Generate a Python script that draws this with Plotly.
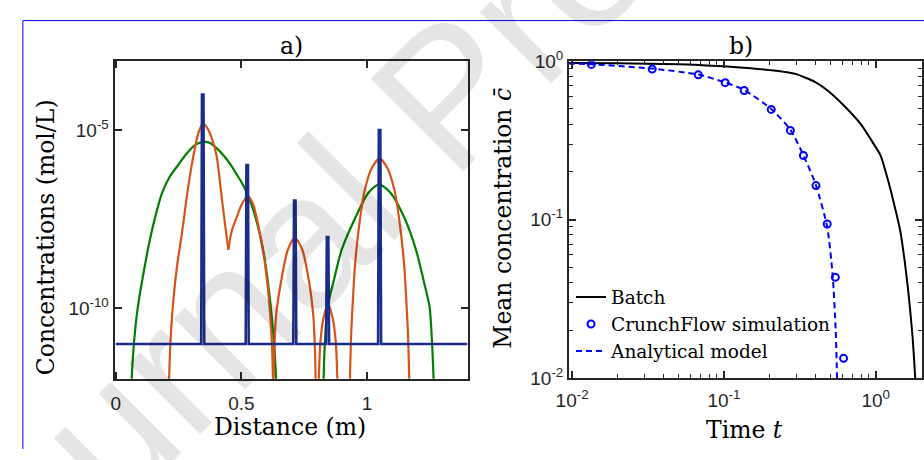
import plotly.graph_objects as go

W, H = 924, 460

# ---------------- Panel a) data (log10 of concentration, mol/L) ----------------
blue_x = [0.0, 0.340, 0.343, 0.349, 0.352, 0.517, 0.520, 0.526, 0.529,
          0.7065, 0.7095, 0.7155, 0.7185, 0.837, 0.840, 0.846, 0.849,
          1.044, 1.047, 1.053, 1.056, 1.4]
blue_y = [1e-11, 1e-11, 1e-4, 1e-4, 1e-11, 1e-11, 1.05e-6, 1.05e-6, 1e-11,
          1e-11, 1.05e-7, 1.05e-7, 1e-11, 1e-11, 1.0e-8, 1.0e-8, 1e-11,
          1e-11, 1e-5, 1e-5, 1e-11, 1e-11]

orange_x = [0.209, 0.212, 0.218, 0.23, 0.245, 0.263, 0.28, 0.297, 0.315, 0.33, 0.347,
            0.365, 0.383, 0.401, 0.412, 0.424, 0.436, 0.448, None,
            0.448, 0.456, 0.465, 0.481, 0.50, 0.525, 0.545, 0.565, 0.586, 0.60, 0.612,
            0.62, 0.625, 0.627, None,
            0.626, 0.628, 0.632, 0.638, 0.658, 0.685, 0.713, 0.742, 0.769, 0.786,
            0.792, 0.795, 0.797, None,
            0.806, 0.808, 0.815, 0.826, 0.845, 0.864, 0.875, 0.882, 0.884, None,
            0.93, 0.932, 0.937, 0.945, 0.952, 0.97, 0.991, 1.02, 1.05, 1.08, 1.109,
            1.13, 1.148, 1.155, 1.163, 1.168, 1.17]
orange_log = [-13, -12, -10.9, -9.7, -8.75, -7.91, -7.0, -6.2, -5.5, -5.05, -4.82,
              -4.95, -5.25, -5.71, -6.3, -7.03, -7.7, -8.36, None,
              -8.36, -8.0, -7.75, -7.45, -7.1, -6.86, -7.05, -7.6, -8.36, -9.1, -9.95,
              -10.8, -11.8, -13, None,
              -13, -12, -11.0, -10.2, -9.24, -8.35, -8.02, -8.35, -9.24, -10.2,
              -11.0, -11.9, -13, None,
              -13, -12, -10.9, -10.3, -9.88, -10.3, -10.9, -12, -13, None,
              -13, -12, -10.7, -9.6, -8.8, -7.6, -6.68, -6.05, -5.80, -6.05, -6.68,
              -7.6, -8.8, -9.6, -10.7, -12, -13]

green_x = [0.058, 0.063, 0.072, 0.086, 0.108, 0.135, 0.16, 0.185, 0.215, 0.246, 0.275,
           0.298, 0.32, 0.35, 0.375, 0.40, 0.429, 0.455, 0.481, 0.505, 0.527, 0.55,
           0.573, 0.59, 0.605, 0.616, 0.625, 0.632, 0.638, 0.641, None,
           0.824, 0.827, 0.832, 0.843, 0.867, 0.899, 0.952, 1.004, 1.048, 1.095,
           1.15, 1.195, 1.226, 1.249, 1.259, 1.265, 1.268]
green_log = [-13, -12.0, -11.0, -10.05, -9.1, -8.1, -7.35, -6.75, -6.3, -6.0, -5.72,
             -5.53, -5.4, -5.33, -5.36, -5.5, -5.71, -5.95, -6.24, -6.52, -6.86, -7.3,
             -7.92, -8.5, -9.24, -9.9, -10.57, -11.2, -12.0, -13, None,
             -13, -12, -11.0, -9.96, -9.24, -8.36, -7.48, -6.77, -6.52, -6.77,
             -7.48, -8.36, -9.24, -9.96, -11.0, -12, -13]

a_xticks = [0, 0.5, 1]
a_xticktext = ["0", "0.5", "1"]
a_yticks = [1e-10, 1e-5]
a_yticktext = ["10<sup>-10</sup>", "10<sup>-5</sup>"]

# ---------------- Panel b) data ----------------
batch_t = [0.0095, 0.02, 0.05, 0.1, 0.15, 0.2, 0.295, 0.4, 0.486, 0.6, 0.8, 0.95,
           1.077, 1.2, 1.315, 1.45, 1.55, 1.65, 1.75, 1.82, 1.86]
batch_c = [0.975, 0.972, 0.96, 0.93, 0.905, 0.88, 0.833, 0.74, 0.65, 0.54, 0.40, 0.31,
           0.254, 0.18, 0.128, 0.085, 0.055, 0.033, 0.018, 0.01, 0.006]

sim_t = [0.0134, 0.0337, 0.0678, 0.102, 0.136, 0.205, 0.274, 0.334, 0.404, 0.479,
         0.542, 0.614]
sim_c = [0.956, 0.893, 0.822, 0.733, 0.654, 0.497, 0.366, 0.254, 0.164, 0.0938,
         0.0432, 0.0133]

ana_t = [0.0095, 0.0134, 0.0337, 0.0678, 0.102, 0.136, 0.205, 0.274, 0.334, 0.404,
         0.479, 0.52, 0.545, 0.556, 0.562]
ana_c = [0.97, 0.958, 0.9, 0.825, 0.735, 0.66, 0.5, 0.37, 0.255, 0.165, 0.09,
         0.045, 0.02, 0.01, 0.005]

b_ticks = [0.01, 0.1, 1]
b_ticktext = ["10<sup>-2</sup>", "10<sup>-1</sup>", "10<sup>0</sup>"]
b_minor = [0.02, 0.03, 0.04, 0.05, 0.06, 0.07, 0.08, 0.09,
           0.2, 0.3, 0.4, 0.5, 0.6, 0.7, 0.8, 0.9, 2]
b_yminor = [0.02, 0.03, 0.04, 0.05, 0.06, 0.07, 0.08, 0.09,
            0.2, 0.3, 0.4, 0.5, 0.6, 0.7, 0.8, 0.9]

AX = "#262626"
TICKFONT = dict(family="Liberation Sans, Arial, sans-serif", size=19, color=AX)
SERIF = "DejaVu Serif, serif"

fig = go.Figure()

fig.add_trace(go.Scatter(x=green_x, y=[None if v is None else 10 ** v for v in green_log],
                         mode="lines", line=dict(color="#007f00", width=2.2,
                                                 shape="spline", smoothing=0.7),
                         xaxis="x", yaxis="y", showlegend=False))
fig.add_trace(go.Scatter(x=orange_x, y=[None if v is None else 10 ** v for v in orange_log],
                         mode="lines", line=dict(color="#d95319", width=2.2,
                                                 shape="spline", smoothing=0.7),
                         xaxis="x", yaxis="y", showlegend=False))
fig.add_trace(go.Scatter(x=blue_x, y=blue_y, mode="lines",
                         line=dict(color="#1b2d8c", width=2.6),
                         xaxis="x", yaxis="y", showlegend=False))

fig.add_trace(go.Scatter(x=batch_t, y=batch_c, mode="lines", name="Batch",
                         line=dict(color="black", width=2, shape="spline", smoothing=0.6),
                         xaxis="x2", yaxis="y2"))
fig.add_trace(go.Scatter(x=sim_t, y=sim_c, mode="markers", name="CrunchFlow simulation",
                         marker=dict(symbol="circle-open", size=7, color="#0000ff",
                                     line=dict(width=2, color="#0000ff")),
                         xaxis="x2", yaxis="y2"))
fig.add_trace(go.Scatter(x=ana_t, y=ana_c, mode="lines", name="Analytical model",
                         line=dict(color="#0000ff", width=2, dash="6px,4px",
                                   shape="spline", smoothing=0.6),
                         xaxis="x2", yaxis="y2"))

common = dict(showline=True, linecolor=AX, linewidth=2, mirror="ticks", ticks="inside",
              tickcolor=AX, tickwidth=1.5, showgrid=False, zeroline=False,
              tickfont=TICKFONT)

fig.update_layout(
    width=W, height=H, autosize=False,
    margin=dict(l=0, r=0, t=0, b=0),
    paper_bgcolor="white", plot_bgcolor="white",
    xaxis=dict(domain=[103 / W, 461 / W], range=[-0.005, 1.4], tickmode="array",
               tickvals=a_xticks, ticktext=a_xticktext, ticklen=7, anchor="y",
               ticklabelstandoff=6, **common),
    yaxis=dict(domain=[1 - 386 / H, 1 - 51 / H], type="log", range=[-11.98, -3.07],
               tickmode="array", tickvals=a_yticks, ticktext=a_yticktext, ticklen=7,
               anchor="x", **common),
    xaxis2=dict(domain=[564 / W, 922 / W], type="log", range=[-2.02, 0.305],
                tickmode="array", tickvals=b_ticks, ticktext=b_ticktext, ticklen=7,
                anchor="y2", ticklabelstandoff=4,
                minor=dict(tickmode="array", tickvals=b_minor, ticks="inside", ticklen=4,
                           tickcolor=AX, tickwidth=1.2, showgrid=False),
                **common),
    yaxis2=dict(domain=[1 - 385 / H, 1 - 51 / H], type="log", range=[-2, 0],
                tickmode="array", tickvals=b_ticks, ticktext=b_ticktext, ticklen=7,
                anchor="x2",
                minor=dict(tickmode="array", tickvals=b_yminor, ticks="inside", ticklen=4,
                           tickcolor=AX, tickwidth=1.2, showgrid=False),
                **common),
    legend=dict(x=566 / W, y=1 - 280 / H, xanchor="left", yanchor="top",
                bgcolor="rgba(0,0,0,0)", borderwidth=0, tracegroupgap=0,
                font=dict(family=SERIF, size=18.5, color="black")),
)

def ann(text, px, py, size=23.5, angle=0, color="black", family=SERIF):
    fig.add_annotation(text=text, x=px / W, y=1 - py / H, xref="paper", yref="paper",
                       showarrow=False, xanchor="center", yanchor="middle",
                       textangle=angle, font=dict(family=family, size=size, color=color))

ann("Journal Pre-proof", 440, 85, size=190, angle=-45, color="rgba(0,0,0,0.1)",
    family="Liberation Sans, Arial, sans-serif")
ann("a)", 282, 35)
ann("b)", 738, 35)
ann("Concentrations (mol/L)", 33, 237, angle=-90)
ann("Mean concentration <i>c̄</i>", 497, 217, angle=-90)
ann("Distance (m)", 281, 437)
ann("Time <i>t</i>", 742, 440)

fig.add_shape(type="line", xref="paper", yref="paper", x0=10 / W, x1=1, y0=1 - 8 / H,
              y1=1 - 8 / H, line=dict(color="#0000ff", width=1))
fig.add_shape(type="line", xref="paper", yref="paper", x0=10 / W, x1=10 / W, y0=0,
              y1=1 - 8 / H, line=dict(color="#0000ff", width=1))

fig.write_html("out.html")
